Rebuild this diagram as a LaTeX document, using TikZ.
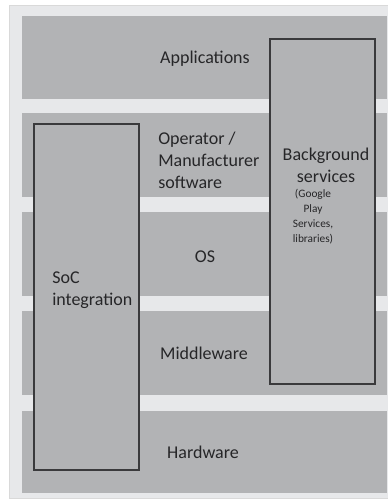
\documentclass[tikz,border=0pt]{standalone}
\usepackage{fontspec}
\setmainfont{Carlito}
\usetikzlibrary{positioning}

\definecolor{pagegray}{RGB}{231,232,234}
\definecolor{bandgray}{RGB}{178,179,181}
\definecolor{framegray}{RGB}{58,58,60}
\definecolor{inkgray}{RGB}{38,38,40}

\tikzset{
  band/.style={fill=bandgray},
  tallbox/.style={draw=framegray, fill=bandgray, line width=0.8pt},
  layer/.style={text=inkgray, font=\fontsize{13.5}{16.5}\selectfont, inner sep=0pt},
  note/.style={text=inkgray, font=\fontsize{8.5}{11.2}\selectfont, inner sep=0pt, align=center}
}

\begin{document}
\begin{tikzpicture}[x=0.75pt, y=-0.75pt]
			\useasboundingbox (0,0) rectangle (387,499);
			\fill[white] (0,0) rectangle (387,499);
			\path[fill=pagegray, draw=black!15] (9,5) rectangle (392,498);
			% layers
			\path[band] (22,16) rectangle (387,99);
			\path[band] (22,113) rectangle (387,197);
			\path[band] (22,212) rectangle (387,296);
			\path[band] (22,311) rectangle (387,395);
			\path[band] (22,411) rectangle (387,493);
			% vertical blocks
			\path[tallbox] (34,124) rectangle (139,470);
			\path[tallbox] (270,39) rectangle (375,384);
			\node[layer] (apps) at (205,59) {Applications};
			\node[layer, anchor=west, align=left] (oem) at (158,160) {Operator /\\Manufacturer\\software};
			\node[layer, align=center] (bgsvc) at (326,165) {Background\\services};
			\node[note] (bgnote) at (313,217) {(Google\\Play\\Services,\\libraries)};
			\node[layer] (os) at (205,257) {OS};
			\node[layer, anchor=west, align=left] (soc) at (52,290) {SoC\\integration};
			\node[layer] (mw) at (204,353) {Middleware};
			\node[layer] (hw) at (203,452) {Hardware};
		\end{tikzpicture}
\end{document}
